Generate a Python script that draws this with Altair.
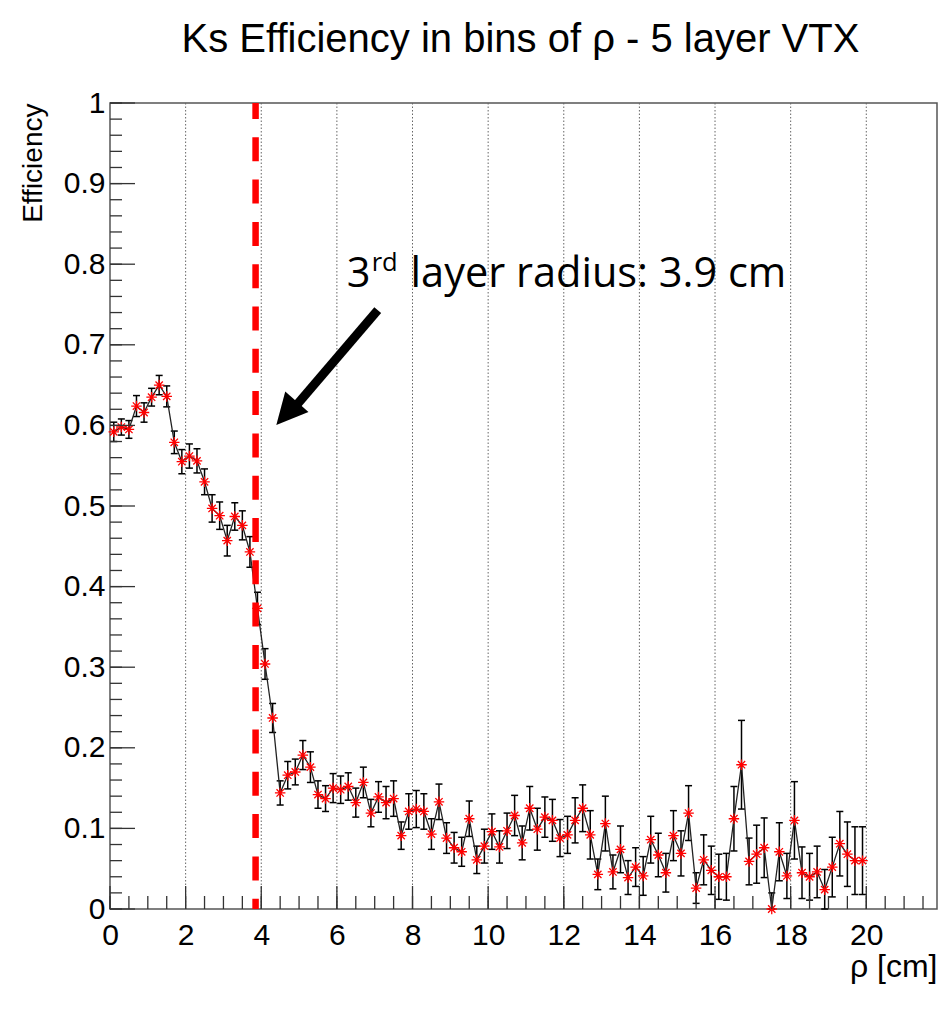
import altair as alt
import pandas as pd

# ---------------- data ----------------
bin_width = 0.2
n_bins = 100
centers = [round(bin_width * (i + 0.5), 2) for i in range(n_bins)]

eff = [
    0.592, 0.598, 0.595, 0.624, 0.616, 0.635, 0.650, 0.636, 0.579, 0.555,
    0.562, 0.556, 0.530, 0.497, 0.488, 0.457, 0.487, 0.476, 0.443, 0.373,
    0.304, 0.237, 0.144, 0.166, 0.170, 0.191, 0.176, 0.142, 0.137, 0.150,
    0.148, 0.152, 0.132, 0.157, 0.119, 0.139, 0.132, 0.137, 0.091, 0.121,
    0.124, 0.121, 0.093, 0.133, 0.088, 0.076, 0.071, 0.112, 0.061, 0.078,
    0.096, 0.077, 0.097, 0.116, 0.082, 0.125, 0.099, 0.114, 0.110, 0.088,
    0.092, 0.110, 0.125, 0.092, 0.043, 0.106, 0.046, 0.074, 0.039, 0.052,
    0.041, 0.086, 0.067, 0.045, 0.091, 0.069, 0.119, 0.026, 0.061, 0.048,
    0.040, 0.040, 0.112, 0.179, 0.059, 0.068, 0.076, 0.000, 0.071, 0.041,
    0.110, 0.045, 0.040, 0.046, 0.024, 0.052, 0.081, 0.068, 0.060, 0.060,
]

err = [
    0.012, 0.010, 0.011, 0.013, 0.012, 0.011, 0.012, 0.013, 0.014, 0.015,
    0.015, 0.015, 0.016, 0.017, 0.017, 0.019, 0.017, 0.018, 0.019, 0.020,
    0.019, 0.018, 0.015, 0.017, 0.016, 0.018, 0.019, 0.017, 0.016, 0.018,
    0.017, 0.017, 0.018, 0.019, 0.017, 0.019, 0.020, 0.022, 0.017, 0.022,
    0.023, 0.022, 0.019, 0.022, 0.019, 0.019, 0.018, 0.022, 0.017, 0.021,
    0.022, 0.020, 0.022, 0.025, 0.021, 0.027, 0.026, 0.025, 0.026, 0.023,
    0.023, 0.028, 0.029, 0.030, 0.019, 0.034, 0.021, 0.029, 0.021, 0.024,
    0.024, 0.029, 0.027, 0.024, 0.031, 0.028, 0.034, 0.019, 0.031, 0.030,
    0.028, 0.029, 0.040, 0.055, 0.029, 0.036, 0.037, 0.020, 0.036, 0.028,
    0.048, 0.032, 0.029, 0.032, 0.025, 0.037, 0.040, 0.040, 0.042, 0.042,
]

x_labels = [0, 2, 4, 6, 8, 10, 12, 14, 16, 18, 20]
x_grid = [2, 4, 6, 8, 10, 12, 14, 16, 18, 20]
x_minor = [0.5 * i for i in range(44)]
y_labels = [0.0, 0.1, 0.2, 0.3, 0.4, 0.5, 0.6, 0.7, 0.8, 0.9, 1.0]
y_minor = [round(0.02 * i, 2) for i in range(51)]

layer_radius = [3.85]

# annotation (arrow + text), in data coordinates
arrow_tail = [7.08, 0.743]
arrow_base = [4.95, 0.626]
arrow_head_center = [4.67, 0.615]
note_pieces = ["3", "rd", "layer radius: 3.9 cm"]
note_x = [6.26, 6.92, 7.95]
note_y = [0.772, 0.791, 0.772]
note_size = [41.5, 25.5, 41.5]

title_text = "Ks Efficiency in bins of \u03c1 - 5 layer VTX"
x_title = "\u03c1 [cm]"
y_title = "Efficiency"

# ---------------- build ----------------
W, H = 827, 806
xs = alt.Scale(domain=[0, 21.87], nice=False, zero=False)
ys = alt.Scale(domain=[0, 1], nice=False, zero=False)

FONT = "Liberation Sans"

xaxis = alt.Axis(values=x_labels, format="d", labelFont=FONT, labelFontSize=30,
                 labelColor="black", labelPadding=11, labelFlush=False,
                 labelOverlap=False, ticks=False, domain=False, grid=False,
                 title=x_title, titleFont=FONT, titleFontSize=32,
                 titleFontWeight="normal", titleColor="black",
                 titleX=W, titleY=67, titleAlign="right",
                 titleBaseline="alphabetic")
yaxis = alt.Axis(values=y_labels, format="~g", labelFont=FONT, labelFontSize=30,
                 labelColor="black", labelPadding=5, labelFlush=False,
                 labelOverlap=False, ticks=False, domain=False, grid=False,
                 title=y_title, titleFont=FONT, titleFontSize=28,
                 titleFontWeight="normal", titleColor="black",
                 titleX=-69, titleY=0, titleAngle=270, titleAlign="right",
                 titleBaseline="alphabetic")

df = pd.DataFrame({"x": centers, "y": eff, "e": err})
df["lo"] = (df["y"] - df["e"]).clip(lower=0)
df["hi"] = df["y"] + df["e"]

grid = alt.Chart(pd.DataFrame({"x": x_grid})).mark_rule(
    color="#666", strokeWidth=1, strokeDash=[1.5, 2]
).encode(x=alt.X("x:Q", scale=xs, axis=xaxis))

bars = alt.Chart(df).mark_rule(color="black", strokeWidth=1.5).encode(
    x=alt.X("x:Q", scale=xs, axis=xaxis),
    y=alt.Y("lo:Q", scale=ys, axis=yaxis),
    y2="hi:Q",
)
cap_lo = alt.Chart(df).mark_tick(color="black", orient="horizontal", size=7,
                                 thickness=1.5, opacity=1).encode(
    x=alt.X("x:Q", scale=xs, axis=xaxis), y=alt.Y("lo:Q", scale=ys, axis=yaxis))
cap_hi = alt.Chart(df).mark_tick(color="black", orient="horizontal", size=7,
                                 thickness=1.5, opacity=1).encode(
    x=alt.X("x:Q", scale=xs, axis=xaxis), y=alt.Y("hi:Q", scale=ys, axis=yaxis))

line = alt.Chart(df).mark_line(color="#222", strokeWidth=1.3).encode(
    x=alt.X("x:Q", scale=xs, axis=xaxis), y=alt.Y("y:Q", scale=ys, axis=yaxis))

red = alt.Chart(pd.DataFrame({"x": layer_radius})).mark_rule(
    color="#ff0000", strokeWidth=6.5, strokeDash=[24, 18.3], strokeDashOffset=8
).encode(x=alt.X("x:Q", scale=xs, axis=xaxis))

ASTER = "M-1,0L1,0M0,-1L0,1M-0.7,-0.7L0.7,0.7M-0.7,0.7L0.7,-0.7"
stars = alt.Chart(df).mark_point(shape=ASTER, filled=False, stroke="#ff0000",
                                 strokeWidth=1.3, size=110, opacity=1).encode(
    x=alt.X("x:Q", scale=xs, axis=xaxis), y=alt.Y("y:Q", scale=ys, axis=yaxis))

ymaj = alt.Chart(pd.DataFrame({"y": y_labels})).mark_rule(color="#333", strokeWidth=1.3).encode(
    y=alt.Y("y:Q", scale=ys, axis=yaxis), x=alt.value(0), x2=alt.value(25))
ymin = alt.Chart(pd.DataFrame({"y": y_minor})).mark_rule(color="#333", strokeWidth=1.3).encode(
    y=alt.Y("y:Q", scale=ys, axis=yaxis), x=alt.value(0), x2=alt.value(12))
xmaj = alt.Chart(pd.DataFrame({"x": x_labels})).mark_rule(color="#333", strokeWidth=1.3).encode(
    x=alt.X("x:Q", scale=xs, axis=xaxis), y=alt.value(H), y2=alt.value(H - 23))
xmin = alt.Chart(pd.DataFrame({"x": x_minor})).mark_rule(color="#333", strokeWidth=1.3).encode(
    x=alt.X("x:Q", scale=xs, axis=xaxis), y=alt.value(H), y2=alt.value(H - 13))

shaft_df = pd.DataFrame({"x": [arrow_tail[0]], "y": [arrow_tail[1]],
                         "x2": [arrow_base[0]], "y2": [arrow_base[1]]})
shaft = alt.Chart(shaft_df).mark_rule(color="black", strokeWidth=9, strokeCap="butt").encode(
    x=alt.X("x:Q", scale=xs, axis=xaxis), y=alt.Y("y:Q", scale=ys, axis=yaxis),
    x2="x2:Q", y2="y2:Q")
head = alt.Chart(pd.DataFrame({"x": [arrow_head_center[0]], "y": [arrow_head_center[1]]})).mark_point(
    shape="M0,-1L1,1L-1,1Z", filled=True, fill="black", strokeWidth=0,
    size=961, angle=221.5, opacity=1).encode(
    x=alt.X("x:Q", scale=xs, axis=xaxis), y=alt.Y("y:Q", scale=ys, axis=yaxis))

note_df = pd.DataFrame({"t": note_pieces, "x": note_x, "y": note_y, "s": note_size})
note = alt.Chart(note_df).mark_text(font="Open Sans", align="left", baseline="alphabetic",
                                    color="black").encode(
    x=alt.X("x:Q", scale=xs, axis=xaxis), y=alt.Y("y:Q", scale=ys, axis=yaxis),
    text="t:N", size=alt.Size("s:Q", scale=None, legend=None))

title = alt.Chart(pd.DataFrame({"t": [title_text]})).mark_text(
    font=FONT, fontSize=40, align="center", baseline="alphabetic", color="black"
).encode(text="t:N", x=alt.value(W / 2 - 3), y=alt.value(-51))

chart = alt.layer(
    grid, bars, cap_lo, cap_hi, line, red, stars, ymaj, ymin, xmaj, xmin, shaft, head, note, title
).properties(
    width=W, height=H,
    autosize=alt.AutoSizeParams(type="none"),
    padding={"left": 110, "top": 103, "right": 3, "bottom": 100},
    background="white",
).configure_view(stroke="#555", strokeWidth=1.5)

chart.save("out.html", embed_options={"renderer": "svg", "actions": False})
